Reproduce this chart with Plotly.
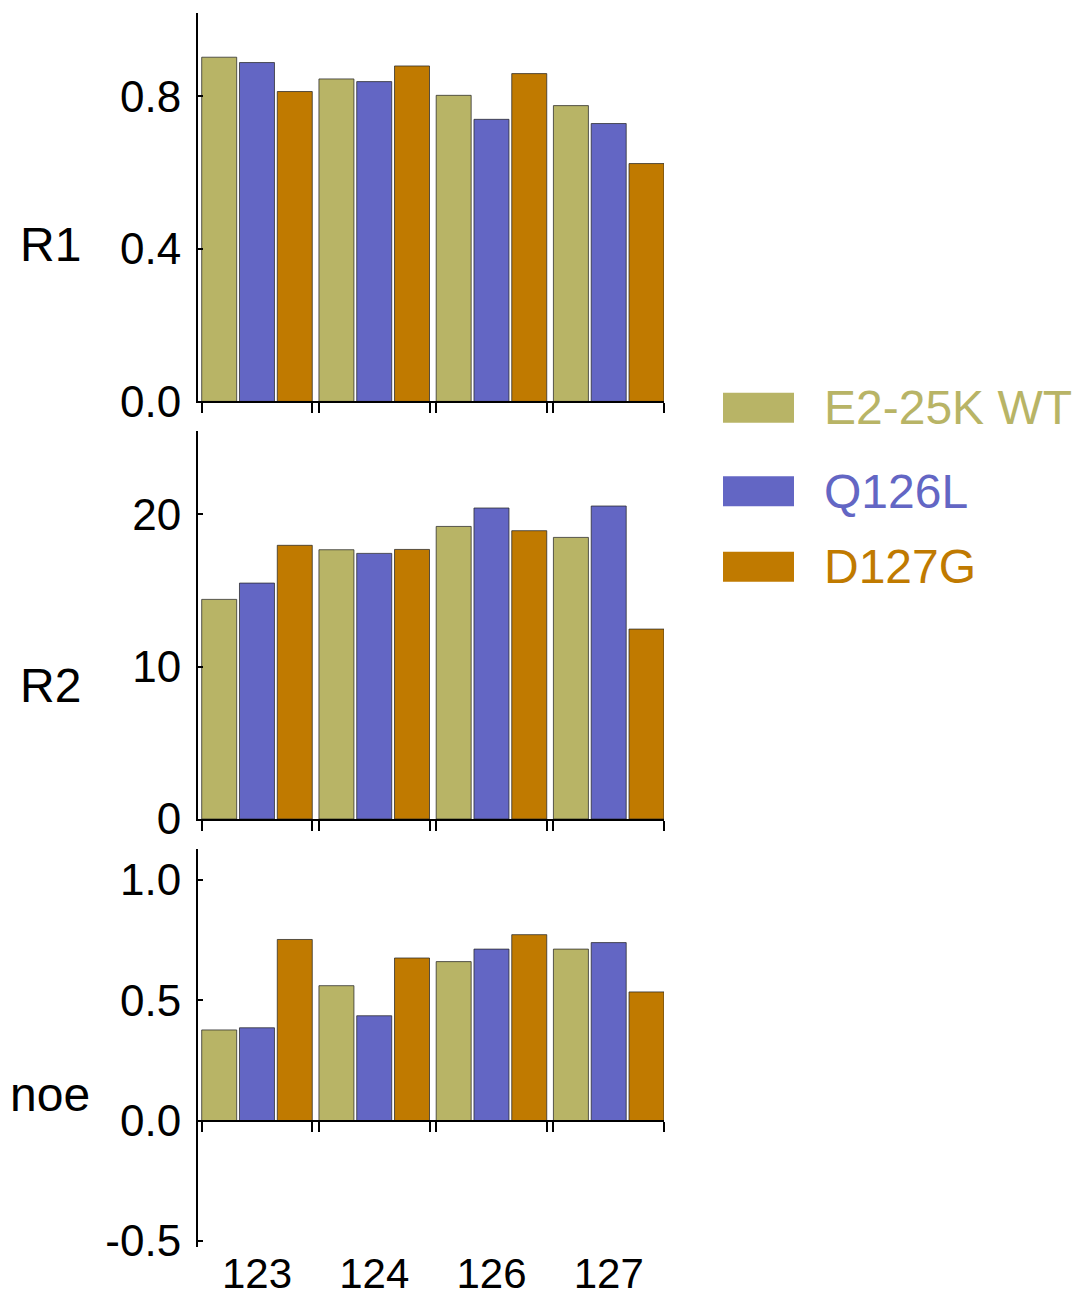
import plotly.graph_objects as go

# ---- data -----------------------------------------------------------------
residues = ["123", "124", "126", "127"]
series_names = ["E2-25K WT", "Q126L", "D127G"]
series_colors = ["#B8B466", "#6366C4", "#C07A00"]

r1_wt = [0.903, 0.846, 0.803, 0.776]
r1_q126l = [0.889, 0.839, 0.740, 0.729]
r1_d127g = [0.813, 0.880, 0.860, 0.624]

r2_wt = [14.42, 17.68, 19.21, 18.49]
r2_q126l = [15.49, 17.44, 20.42, 20.55]
r2_d127g = [17.97, 17.70, 18.93, 12.47]

noe_wt = [0.377, 0.561, 0.661, 0.713]
noe_q126l = [0.386, 0.436, 0.713, 0.740]
noe_d127g = [0.753, 0.676, 0.773, 0.535]

panel_titles = ["R1", "R2", "noe"]
r1_ticks = [0.0, 0.4, 0.8]
r2_ticks = [0, 10, 20]
noe_ticks = [-0.5, 0.0, 0.5, 1.0]

panels = [
    ([r1_wt, r1_q126l, r1_d127g], r1_ticks, "{:.1f}", [0, 1.019]),
    ([r2_wt, r2_q126l, r2_d127g], r2_ticks, "{:d}", [0, 25.45]),
    ([noe_wt, noe_q126l, noe_d127g], noe_ticks, "{:.1f}", [-0.525, 1.129]),
]

# ---- page geometry (pixels) ---------------------------------------------
W, H = 1077, 1301
PLOT_L, PLOT_R = 198, 664
PLOT_T, PLOT_B = 13.3, 1247.3
panel_px = [(13.3, 401.7), (431.7, 819.3), (849.3, 1247.3)]
plot_h = PLOT_B - PLOT_T
plot_w = PLOT_R - PLOT_L


def py(v):
    """pixel row -> paper y"""
    return (PLOT_B - v) / plot_h


def px(v):
    """pixel column -> paper x"""
    return (v - PLOT_L) / plot_w


BARGAP = 0.033
BARGROUPGAP = 0.074
group_w = 1 - BARGAP
half_extent = group_w / 2 - (group_w / 3) * BARGROUPGAP / 2
x_range = [-(half_extent + 0.0315), len(residues) - 1 + half_extent]
xpos = list(range(len(residues)))
edge_ticks = [c + d for c in xpos for d in (-half_extent, half_extent)]

FONT = "Liberation Sans, Arial, Helvetica, sans-serif"
AXIS_COLOR = "black"

fig = go.Figure()

for p, (series, ticks, fmt, yr) in enumerate(panels, start=1):
    for name, color, vals in zip(series_names, series_colors, series):
        fig.add_trace(go.Bar(
            x=xpos, y=vals, name=name,
            xaxis=f"x{p}", yaxis=f"y{p}",
            marker=dict(color=color, line=dict(color="rgba(40,40,40,0.75)", width=1)),
            showlegend=False,
        ))

    top_px, bot_px = panel_px[p - 1]
    fig.layout[f"yaxis{p}"] = dict(
        domain=[py(bot_px), py(top_px)], range=yr, anchor=f"x{p}",
        tickvals=ticks, ticktext=[fmt.format(t) for t in ticks],
        ticks="inside", ticklen=5, tickwidth=1.5, tickcolor=AXIS_COLOR,
        showline=True, linewidth=2, linecolor=AXIS_COLOR,
        showgrid=False, zeroline=False, automargin=False,
        tickfont=dict(family=FONT, size=44, color="black"),
        ticklabelstandoff=6,
    )
    xa = dict(
        domain=[0, 1], range=x_range, anchor=f"y{p}",
        tickvals=edge_ticks, ticktext=["" for _ in edge_ticks],
        ticks="outside", ticklen=10, tickwidth=1.5, tickcolor=AXIS_COLOR,
        showline=True, linewidth=2, linecolor=AXIS_COLOR,
        showgrid=False, zeroline=False, showticklabels=False, automargin=False,
    )
    if p == 3:
        # baseline axis sits at y = 0 inside the noe panel
        lo, hi = yr
        d0, d1 = py(bot_px), py(top_px)
        xa.update(anchor="free", position=d0 + (d1 - d0) * (0 - lo) / (hi - lo))
    fig.layout[f"xaxis{p}"] = xa

    fig.add_annotation(
        text=panel_titles[p - 1], xref="paper", yref="paper",
        x=px(50), y=py([244.5, 686, 1095][p - 1]),
        xanchor="center", yanchor="middle", showarrow=False,
        font=dict(family=FONT, size=48, color="black"),
    )

# residue labels along the bottom edge
fig.add_trace(go.Scatter(x=xpos, y=[None] * len(xpos), xaxis="x4", yaxis="y3",
                         showlegend=False, hoverinfo="skip"))
fig.layout["xaxis4"] = dict(
    overlaying="x3", anchor="y3", range=x_range,
    tickvals=xpos, ticktext=residues, ticks="", showline=False,
    showgrid=False, zeroline=False, automargin=False,
    tickfont=dict(family=FONT, size=42, color="black"),
    ticklabelstandoff=-2,
)

# legend: swatch + coloured label per series
legend_rows = [408, 491.5, 567]
for name, color, row in zip(series_names, series_colors, legend_rows):
    fig.add_shape(type="rect", xref="paper", yref="paper",
                  x0=px(723), x1=px(794), y0=py(row + 15), y1=py(row - 15),
                  fillcolor=color, line=dict(width=0))
    fig.add_annotation(text=name, xref="paper", yref="paper",
                       x=px(822), y=py(row), xanchor="left", yanchor="middle",
                       showarrow=False,
                       font=dict(family=FONT, size=48, color=color))

fig.update_layout(
    width=W, height=H,
    margin=dict(l=PLOT_L, r=W - PLOT_R, t=PLOT_T, b=H - PLOT_B),
    barmode="group", bargap=BARGAP, bargroupgap=BARGROUPGAP,
    plot_bgcolor="white", paper_bgcolor="white",
    showlegend=False,
)

fig.write_html("out.html")
